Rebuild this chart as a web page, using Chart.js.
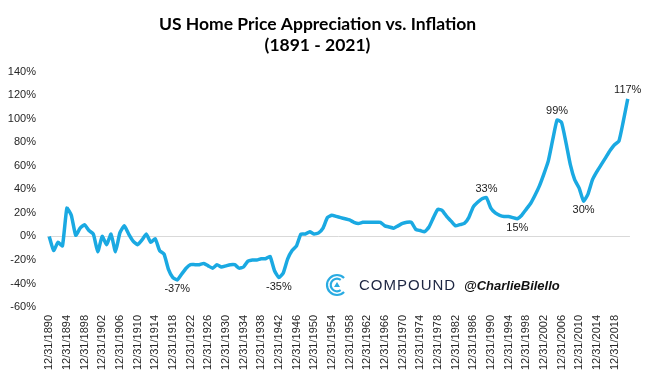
<!DOCTYPE html>
<html>
<head>
<meta charset="utf-8">
<script src="https://cdn.jsdelivr.net/npm/chart.js@4.4.1/dist/chart.umd.min.js"></script>
<style>
html, body { margin: 0; padding: 0; background: #fff; }
#wrap { width: 649px; height: 385px; }
</style>
</head>
<body>
<div id="wrap"><canvas id="homeChart"></canvas></div>
<script>
/* =========================
   DATA
========================= */

const firstYear = 1890;
const lastYear = 2021;

const years = [];
for (let y = firstYear; y <= lastYear; y++) years.push(y);
const categories = years.map(y => '12/31/' + y);

// real home price appreciation (%), one value per year 1890 - 2021
const realAppreciation = [
    0, -12, -5, -8, 24, 18, 1, 7, 10, 5,            // 1890s
    2, -13, 0, -7, 2, -13, 3, 9, 2, -4,             // 1900s
    -7, -3, 2, -5, -2, -12, -15, -28, -35, -37,     // 1910s
    -32, -27, -24, -24, -24, -23, -25, -27, -24, -26, // 1920s
    -25, -24, -24, -27, -26, -21, -20, -20, -19, -19, // 1930s
    -17, -29, -35, -31, -19, -12, -8, 2, 2, 4,      // 1940s
    2, 3, 7, 16, 18, 17, 16, 15, 14, 12,            // 1950s
    11, 12, 12, 12, 12, 12, 9, 8, 7, 9,             // 1960s
    11, 12, 12, 6, 5, 4, 8, 16, 23, 22,             // 1970s
    17, 13, 9, 10, 11, 16, 25, 29, 32, 33,          // 1980s
    24, 20, 18, 17, 17, 16, 15, 18, 23, 28,         // 1990s
    35, 43, 53, 64, 82, 99, 97, 80, 61, 48,         // 2000s
    41, 30, 36, 48, 55, 61, 67, 73, 78, 81,         // 2010s
    98, 117                                         // 2020s
];

const yTickValues = [-60, -40, -20, 0, 20, 40, 60, 80, 100, 120, 140];

// labelled points
const calloutYears = [1919, 1942, 1989, 1996, 2005, 2011, 2021];
const calloutPlace = ['below', 'below', 'above', 'below', 'above', 'below', 'above'];

const lineColor = '#1aa9e2';


/* =========================
   PLUGINS
========================= */

const calloutPlugin = {
    id: 'callouts',
    afterDatasetsDraw(chart) {
        const ctx = chart.ctx;
        const meta = chart.getDatasetMeta(0);
        ctx.save();
        ctx.font = '11px "Liberation Sans", Arial, sans-serif';
        ctx.fillStyle = '#1a1a1a';
        ctx.textAlign = 'center';
        ctx.textBaseline = 'middle';
        calloutYears.forEach((yr, i) => {
            const idx = years.indexOf(yr);
            const pt = meta.data[idx];
            const dy = calloutPlace[i] === 'above' ? -9 : 9;
            ctx.fillText(realAppreciation[idx] + '%', pt.x, pt.y + dy);
        });
        ctx.restore();
    }
};

const watermarkPlugin = {
    id: 'watermark',
    afterDraw(chart) {
        const ctx = chart.ctx;
        const cx = 337, cy = 285;
        ctx.save();

        // logo
        ctx.strokeStyle = '#29abe2';
        ctx.lineWidth = 2.2;
        ctx.beginPath();
        ctx.arc(cx, cy, 10, 0.25 * Math.PI, 1.75 * Math.PI);
        ctx.stroke();
        ctx.beginPath();
        ctx.arc(cx, cy, 6.3, 0.3 * Math.PI, 1.7 * Math.PI);
        ctx.stroke();
        ctx.fillStyle = '#29abe2';
        ctx.beginPath();
        ctx.moveTo(cx, cy - 3);
        ctx.lineTo(cx + 3, cy + 2);
        ctx.lineTo(cx - 3, cy + 2);
        ctx.closePath();
        ctx.fill();

        // text
        ctx.textBaseline = 'middle';
        ctx.fillStyle = '#1c2541';
        ctx.font = '15px "Liberation Sans", Arial, sans-serif';
        ctx.letterSpacing = '1px';
        ctx.fillText('COMPOUND', 359, 286);
        ctx.letterSpacing = '0px';

        ctx.fillStyle = '#111';
        ctx.font = 'italic bold 13px "Liberation Sans", Arial, sans-serif';
        ctx.fillText('@CharlieBilello', 464, 286);

        ctx.restore();
    }
};


/* =========================
   CHART
========================= */

const chart = new Chart(document.getElementById('homeChart'), {
    type: 'line',
    data: {
        labels: categories,
        datasets: [{
            data: realAppreciation,
            borderColor: lineColor,
            borderWidth: 3.5,
            pointRadius: 0,
            tension: 0.15,
            fill: false
        }]
    },
    options: {
        responsive: true,
        maintainAspectRatio: false,
        animation: false,
        layout: {
            padding: { left: 0, right: 14, top: 0, bottom: 0 }
        },
        plugins: {
            legend: { display: false },
            tooltip: { enabled: false },
            title: {
                display: true,
                text: ['US Home Price Appreciation vs. Inflation', '(1891 - 2021)'],
                color: '#000',
                font: { family: 'Lato', size: 17.5, weight: 'bold', lineHeight: 1.25 },
                padding: { top: 13, bottom: 15 }
            }
        },
        scales: {
            x: {
                offset: true,
                border: { display: false },
                grid: { display: false, drawTicks: false },
                ticks: {
                    autoSkip: false,
                    minRotation: 90,
                    maxRotation: 90,
                    padding: 8,
                    color: '#262626',
                    font: { family: 'Liberation Sans', size: 11 },
                    callback: (v, i) => (i % 4 === 0 ? categories[i] : '')
                },
                afterFit: scale => { scale.height = 78; }
            },
            y: {
                min: -60,
                max: 140,
                border: { display: false },
                grid: {
                    drawTicks: false,
                    color: ctx => (ctx.tick && ctx.tick.value === 0 ? '#d9d9d9' : 'rgba(0,0,0,0)')
                },
                afterBuildTicks: scale => {
                    scale.ticks = yTickValues.map(v => ({ value: v }));
                },
                ticks: {
                    padding: 11,
                    color: '#262626',
                    font: { family: 'Liberation Sans', size: 11 },
                    callback: v => v + '%'
                },
                afterFit: scale => { scale.width = 47; }
            }
        }
    },
    plugins: [calloutPlugin, watermarkPlugin]
});
</script>
</body>
</html>
